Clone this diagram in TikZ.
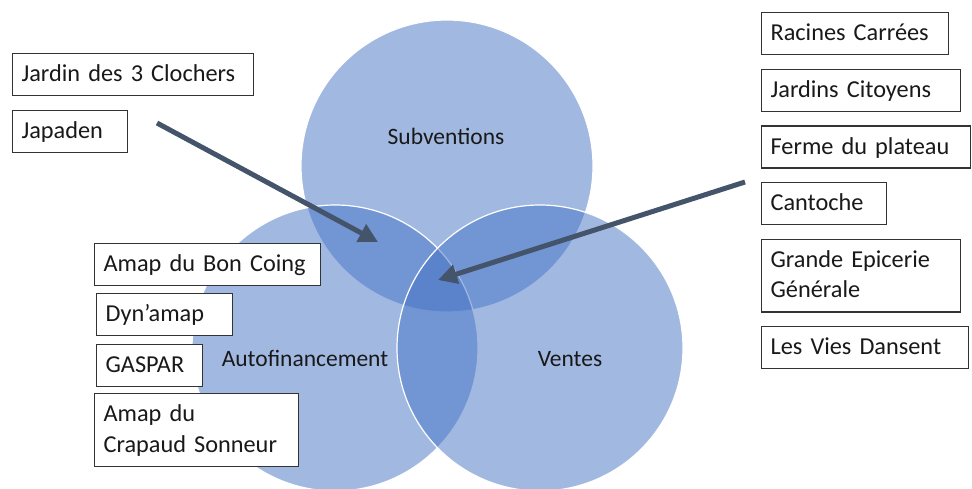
\documentclass[tikz,border=0pt]{standalone}
\usepackage{fontspec}
\setmainfont{Carlito}
\usetikzlibrary{positioning}
\usetikzlibrary{arrows.meta}

\definecolor{vennblue}{HTML}{4472C4}
\definecolor{arrowslate}{HTML}{44546A}

\tikzset{
	venn/.style = {circle, minimum size = #1, inner sep = 0pt, fill = vennblue, fill opacity = 0.5, draw = white, line width = 1.2pt},
	vennlabel/.style = {anchor = base, text = black!90, font = \fontsize{23.5}{28}\selectfont},
	namebox/.style = {draw = black!80, line width = 1.2pt, fill = white, text = black!90, anchor = north west, align = left, inner xsep = 9pt, inner ysep = 9pt, text height = 19pt, text depth = 5pt, font = \fontsize{24.3}{30.5}\selectfont},
	twolines/.style = {text depth = 35.5pt},
	bigarrow/.style = {draw = arrowslate, line width = 5pt, -{Triangle[length = 19pt, width = 19pt]}}
}

\begin{document}
\begin{tikzpicture}[x = 1pt, y = -1pt]
				\useasboundingbox (0, 0) rectangle (972, 488);
				% the three sets
				\node[venn = 292pt] (subv) at (447, 166) {};
				\node[venn = 286pt] (autof) at (335, 348) {};
				\node[venn = 286pt] (ventes) at (540, 348) {};
				\node[vennlabel] (subvLabel) at (446, 144) {Subventions};
				\node[vennlabel] (autofLabel) at (305, 366) {Autofinancement};
				\node[vennlabel] (ventesLabel) at (570, 366) {Ventes};
				% arrows
				\coordinate (clochersTail) at (157, 123);
				\coordinate (clochersTip) at (378, 242);
				\coordinate (cantocheTail) at (745, 182);
				\coordinate (cantocheTip) at (438, 280);
				\draw[bigarrow] (clochersTail) -- (clochersTip);
				\draw[bigarrow] (cantocheTail) -- (cantocheTip);
				% left boxes
				\node[namebox, text width = 223pt] (jardin) at (12, 53) {Jardin des 3 Clochers};
				\node[namebox, text width = 97pt, below = 13.5pt of jardin.south west, anchor = north west] (japaden) {Japaden};
				\node[namebox, text width = 208pt] (bonCoing) at (94, 243) {Amap du Bon Coing};
				\node[namebox, text width = 118pt] (dynamap) at (96, 293) {Dyn’amap};
				\node[namebox, text width = 88pt] (gaspar) at (96, 344) {GASPAR};
				\node[namebox, twolines, text width = 186pt] (crapaud) at (94, 393) {Amap du\\Crapaud Sonneur};
				% right boxes
				\node[namebox, text width = 169pt] (racines) at (761, 12) {Racines Carrées};
				\node[namebox, text width = 181pt, below = 13.5pt of racines.south west, anchor = north west] (citoyens) {Jardins Citoyens};
				\node[namebox, text width = 191pt, below = 13.5pt of citoyens.south west, anchor = north west] (ferme) {Ferme du plateau};
				\node[namebox, text width = 107pt, below = 13.5pt of ferme.south west, anchor = north west] (cantoche) {Cantoche};
				\node[namebox, twolines, text width = 181pt, below = 13.5pt of cantoche.south west, anchor = north west] (epicerie) {Grande Epicerie\\Générale};
				\node[namebox, text width = 189pt, below = 13pt of epicerie.south west, anchor = north west] (vies) {Les Vies Dansent};
			\end{tikzpicture}
\end{document}
